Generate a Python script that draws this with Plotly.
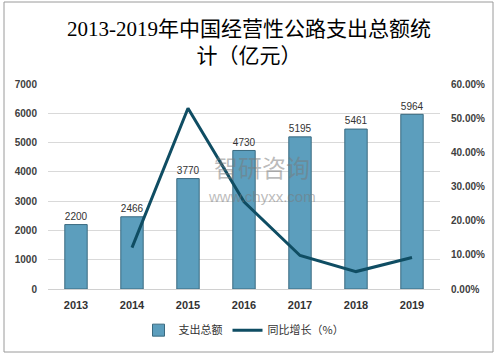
import plotly.graph_objects as go

years = ["2013", "2014", "2015", "2016", "2017", "2018", "2019"]
spending = [2200, 2466, 3770, 4730, 5195, 5461, 5964]
growth_years = ["2014", "2015", "2016", "2017", "2018", "2019"]
growth = [0.121, 0.529, 0.255, 0.098, 0.051, 0.092]
left_ticks = [0, 1000, 2000, 3000, 4000, 5000, 6000, 7000]
right_ticks = [0, 0.1, 0.2, 0.3, 0.4, 0.5, 0.6]

fig = go.Figure()
fig.add_trace(go.Bar(
    x=years, y=spending, name="支出总额", width=0.4,
    marker=dict(color="#5c9ebd", line=dict(color="#3a6a80", width=1)),
    text=[str(v) for v in spending], textposition="outside",
    textfont=dict(size=11, color="#333333", family="Liberation Sans"),
    cliponaxis=False,
))
fig.add_trace(go.Scatter(
    x=growth_years, y=growth, name="同比增长（%）", yaxis="y2",
    mode="lines", line=dict(color="#0f4d63", width=3),
))

tickfont = dict(size=10, color="#404040", family="Liberation Sans", weight="bold")

fig.update_layout(
    width=498, height=357,
    margin=dict(l=48, r=58, t=84, b=68, autoexpand=False),
    paper_bgcolor="white", plot_bgcolor="white",
    font=dict(family="Noto Sans CJK SC", size=11, color="#404040"),
    title=dict(
        text="2013-2019年中国经营性公路支出总额统<br>计（亿元）",
        x=0.5, xanchor="center", y=0.9, yanchor="top",
        font=dict(family="Liberation Serif, Noto Sans CJK SC", size=21, color="#000000"),
    ),
    xaxis=dict(
        type="category", showgrid=False, ticks="",
        tickfont=dict(size=11, color="#333333", family="Liberation Sans", weight="bold"),
        showline=True, linecolor="#d0d0d0", ticklabelstandoff=6,
    ),
    yaxis=dict(
        range=[0, 7000], tickvals=left_ticks, showgrid=True, gridcolor="#d9d9d9",
        tickfont=tickfont, zeroline=False, ticklabelstandoff=10,
    ),
    yaxis2=dict(
        range=[0, 0.6], tickvals=right_ticks, tickformat=".2%", overlaying="y",
        side="right", showgrid=False, zeroline=False,
        tickfont=tickfont, ticklabelstandoff=10,
    ),
    legend=dict(
        orientation="h", x=0.5, xanchor="center", y=-0.13, yanchor="top",
        font=dict(size=11, color="#333333"),
    ),
    shapes=[dict(
        type="rect", xref="paper", yref="paper",
        x0=-44/392, x1=1 + 53/392, y0=-63/205, y1=1 + 82/205,
        line=dict(color="#9a9a9a", width=1), fillcolor="rgba(0,0,0,0)",
    )],
    annotations=[
        dict(text="智研咨询", x=(262-48)/392, y=(289-166)/205, xref="paper", yref="paper",
             showarrow=False, font=dict(size=24, color="rgba(120,120,120,0.5)")),
        dict(text="www.chyxx.com", x=(262-48)/392, y=(289-196)/205, xref="paper", yref="paper",
             showarrow=False, font=dict(size=15, color="rgba(120,120,120,0.5)", family="Liberation Sans")),
    ],
)

fig.write_html("out.html", config={"displayModeBar": False},
               post_script="document.body.style.margin='0';document.body.style.padding='0';")
